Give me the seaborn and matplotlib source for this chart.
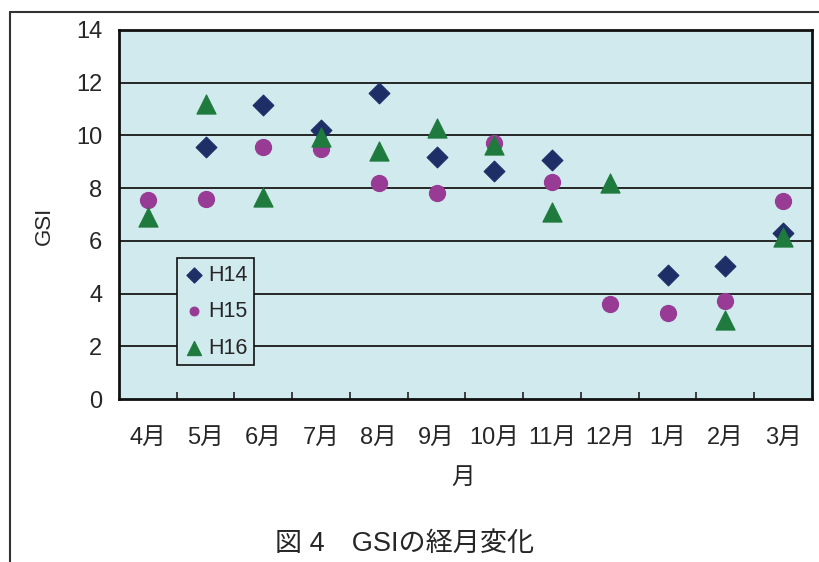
import matplotlib
matplotlib.use("Agg")
import matplotlib.pyplot as plt
from matplotlib.lines import Line2D
from matplotlib.ticker import FixedLocator
import numpy as np
import pandas as pd
import seaborn as sns

# Monthly GSI, fiscal year order (April to March)
months = ["4月", "5月", "6月", "7月", "8月", "9月", "10月", "11月", "12月", "1月", "2月", "3月"]
h14 = [np.nan, 9.55, 11.15, 10.2, 11.6, 9.2, 8.65, 9.05, np.nan, 4.7, 5.05, 6.3]
h15 = [7.55, 7.6, 9.55, 9.5, 8.2, 7.8, 9.7, 8.25, 3.6, 3.25, 3.7, 7.5]
h16 = [6.9, 11.2, 7.65, 9.95, 9.4, 10.3, 9.65, 7.1, 8.2, np.nan, 3.0, 6.15]
series_names = ["H14", "H15", "H16"]
y_ticks = [0, 2, 4, 6, 8, 10, 12, 14]

rows = []
for name, vals in zip(series_names, [h14, h15, h16]):
    for i, v in enumerate(vals):
        rows.append({"pos": i, "GSI": v, "年度": name})
df = pd.DataFrame(rows).dropna()

sns.set_theme(style="white")
plt.rcParams["font.family"] = ["Liberation Sans", "Noto Sans CJK JP"]

bg = "#d0eaee"
ink = "#262626"
colors = {"H14": "#1d2f66", "H15": "#983b95", "H16": "#1f7b3d"}
markers = {"H14": "D", "H15": "o", "H16": "^"}
sizes = {"H14": 112, "H15": 135, "H16": 190}
legend_sizes = {"H14": 60, "H15": 40, "H16": 105}

fig = plt.figure(figsize=(8.2, 5.62), dpi=100)
ax = fig.add_axes([119 / 820, 1 - 399 / 562, (812 - 119) / 820, (399 - 30) / 562])
ax.set_facecolor(bg)

for name in series_names:
    sub = df[df["年度"] == name]
    sns.scatterplot(data=sub, x="pos", y="GSI", ax=ax, marker=markers[name],
                    s=sizes[name], color=colors[name], edgecolor=colors[name],
                    linewidth=0.8, label=name, zorder=3)

ax.set_xlim(-0.5, len(months) - 0.5)
ax.set_ylim(0, 14)
ax.set_yticks(y_ticks)
ax.set_xticks(range(len(months)))
ax.set_xticklabels(months)
ax.xaxis.set_minor_locator(FixedLocator(np.arange(0.5, len(months) - 0.5, 1)))
ax.tick_params(axis="x", which="major", length=0, pad=20, labelsize=17)
ax.tick_params(axis="x", which="minor", length=5, width=1.2, direction="in",
               color="#222222", bottom=True)
ax.tick_params(axis="y", length=0, pad=12, labelsize=17)
for t in ax.get_xticklabels() + ax.get_yticklabels():
    t.set_color(ink)

for y in y_ticks[1:-1]:
    ax.axhline(y, color=ink, lw=1.4, zorder=1)

for sp in ax.spines.values():
    sp.set_color("#111111")
    sp.set_linewidth(2.0)

ax.set_xlabel("月", fontsize=17, color=ink)
ax.xaxis.set_label_coords(0.497, -0.183)
ax.set_ylabel("GSI", fontsize=16, color=ink)
ax.yaxis.set_label_coords(-0.092, 0.47)

leg = ax.legend(loc="lower left", bbox_to_anchor=(0.084, 0.092), frameon=True,
                fancybox=False, facecolor=bg, edgecolor="#111111", framealpha=1,
                fontsize=15.5, handletextpad=0.15, borderpad=0.3, labelspacing=0.72,
                handlelength=1.0, borderaxespad=0)
leg.get_frame().set_linewidth(1.2)
for h, name in zip(leg.legend_handles, series_names):
    h.set_sizes([legend_sizes[name]])
for t in leg.get_texts():
    t.set_color(ink)

fig.text(405 / 820, 1 - 544 / 562, "図 4　GSIの経月変化", fontsize=19.5, ha="center",
         va="center", color=ink)

# page frame along the top and left edge
fig.add_artist(Line2D([10 / 820, 1.0], [1 - 12 / 562, 1 - 12 / 562],
                      transform=fig.transFigure, color="#333333", lw=1.5))
fig.add_artist(Line2D([10 / 820, 10 / 820], [0, 1 - 12 / 562],
                      transform=fig.transFigure, color="#333333", lw=1.5))

fig.savefig("out.png", dpi=100, facecolor="white")
